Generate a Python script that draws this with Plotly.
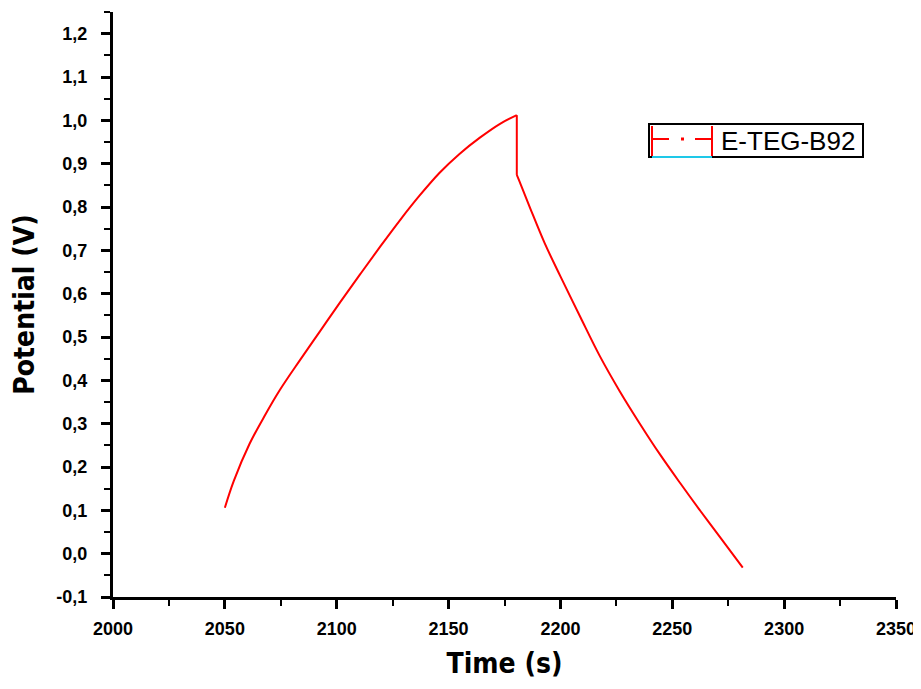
import plotly.graph_objects as go

# Galvanostatic charge/discharge curve
charge_time = [2050, 2054, 2061, 2068, 2074.5, 2083.5, 2092.5, 2101.5, 2110.5,
               2119.5, 2128.5, 2137, 2146, 2155, 2164, 2173, 2180.5]
charge_v = [0.106, 0.168, 0.253, 0.320, 0.377, 0.446, 0.513, 0.580, 0.645,
            0.709, 0.771, 0.826, 0.879, 0.923, 0.960, 0.992, 1.012]
discharge_time = [2180.5, 2182.5, 2186.5, 2193, 2200, 2209, 2217.5, 2226.5, 2235.5,
                  2244.5, 2253.5, 2262.5, 2271.5, 2281.5]
discharge_v = [0.874, 0.849, 0.797, 0.716, 0.640, 0.545, 0.457, 0.375, 0.300,
               0.229, 0.163, 0.099, 0.037, -0.032]

series_name = "E-TEG-B92"

x_ticks = [2000, 2050, 2100, 2150, 2200, 2250, 2300, 2350]
y_ticks = [-0.1, 0.0, 0.1, 0.2, 0.3, 0.4, 0.5, 0.6, 0.7, 0.8, 0.9, 1.0, 1.1, 1.2]
y_tick_labels = ["-0,1", "0,0", "0,1", "0,2", "0,3", "0,4", "0,5", "0,6",
                 "0,7", "0,8", "0,9", "1,0", "1,1", "1,2"]

red = "#ff0000"
fig = go.Figure()
fig.add_trace(go.Scatter(x=charge_time, y=charge_v, mode="lines", name=series_name,
                         line=dict(color=red, width=2, shape="spline", smoothing=1.0),
                         showlegend=False))
# IR drop between end of charge and start of discharge
fig.add_trace(go.Scatter(x=[charge_time[-1], discharge_time[0]],
                         y=[charge_v[-1], discharge_v[0]], mode="lines",
                         line=dict(color=red, width=2), showlegend=False,
                         hoverinfo="skip"))
fig.add_trace(go.Scatter(x=discharge_time, y=discharge_v, mode="lines", name=series_name,
                         line=dict(color=red, width=2, shape="spline", smoothing=1.0),
                         showlegend=False))

tick_font = dict(family="Liberation Sans, Arial, sans-serif", size=18, color="black",
                 weight="bold")
title_font = dict(family="DejaVu Sans Condensed, Liberation Sans Narrow, Arial Narrow, sans-serif",
                  size=28, color="black", weight="bold")

# page body has an 8 px margin: figure is sized/placed to compensate
FIG_W, FIG_H = 913, 681
ML, MR, MT, MB = 105, 25, 4, 92
PW, PH = FIG_W - ML - MR, FIG_H - MT - MB


def px(xi):   # picture x -> paper x
    return (xi - 8 - ML) / PW


def py(yi):   # picture y -> paper y
    return 1 - (yi - 8 - MT) / PH


# hand-drawn legend box (as in the original figure)
shapes = [
    dict(type="rect", xref="paper", yref="paper", x0=px(649), x1=px(863),
         y0=py(157), y1=py(124), line=dict(color="black", width=2), fillcolor="white",
         layer="above"),
    dict(type="line", xref="paper", yref="paper", x0=px(652), x1=px(712),
         y0=py(157), y1=py(157), line=dict(color="#1ec8e8", width=2)),
    dict(type="line", xref="paper", yref="paper", x0=px(652), x1=px(652),
         y0=py(156), y1=py(126), line=dict(color=red, width=2)),
    dict(type="line", xref="paper", yref="paper", x0=px(712), x1=px(712),
         y0=py(156), y1=py(126), line=dict(color=red, width=2)),
    dict(type="line", xref="paper", yref="paper", x0=px(652), x1=px(669),
         y0=py(139), y1=py(139), line=dict(color=red, width=2)),
    dict(type="line", xref="paper", yref="paper", x0=px(681), x1=px(684),
         y0=py(139), y1=py(139), line=dict(color=red, width=3)),
    dict(type="line", xref="paper", yref="paper", x0=px(695), x1=px(712),
         y0=py(139), y1=py(139), line=dict(color=red, width=2)),
]
annotations = [
    dict(text=series_name, xref="paper", yref="paper", x=px(719), y=py(141),
         xanchor="left", yanchor="middle", showarrow=False,
         font=dict(family="Liberation Sans, Arial, sans-serif", size=26, color="black")),
]

fig.update_layout(
    width=FIG_W, height=FIG_H,
    margin=dict(l=ML, r=MR, t=MT, b=MB, autoexpand=False),
    paper_bgcolor="white", plot_bgcolor="white",
    showlegend=False,
    shapes=shapes, annotations=annotations,
    xaxis=dict(range=[2000, 2350], tickmode="array", tickvals=x_ticks,
               ticktext=[str(v) for v in x_ticks], automargin=False,
               showline=True, linecolor="black", linewidth=3, mirror=False,
               ticks="outside", ticklen=9, tickwidth=3, tickcolor="black",
               minor=dict(dtick=25, tick0=2000, ticks="outside", ticklen=6,
                          tickwidth=2, tickcolor="black"),
               showgrid=False, zeroline=False, tickfont=tick_font,
               ticklabelstandoff=4,
               title=dict(text="Time (s)", font=title_font, standoff=16)),
    yaxis=dict(range=[-0.1, 1.25], tickmode="array", tickvals=y_ticks,
               ticktext=y_tick_labels, automargin=False,
               showline=True, linecolor="black", linewidth=3, mirror=False,
               ticks="outside", ticklen=9, tickwidth=3, tickcolor="black",
               minor=dict(dtick=0.05, tick0=-0.1, ticks="outside", ticklen=6,
                          tickwidth=2, tickcolor="black"),
               showgrid=False, zeroline=False, tickfont=tick_font,
               ticklabelstandoff=10,
               title=dict(text="Potential (V)", font=title_font, standoff=14)),
)

fig.write_html("out.html")
